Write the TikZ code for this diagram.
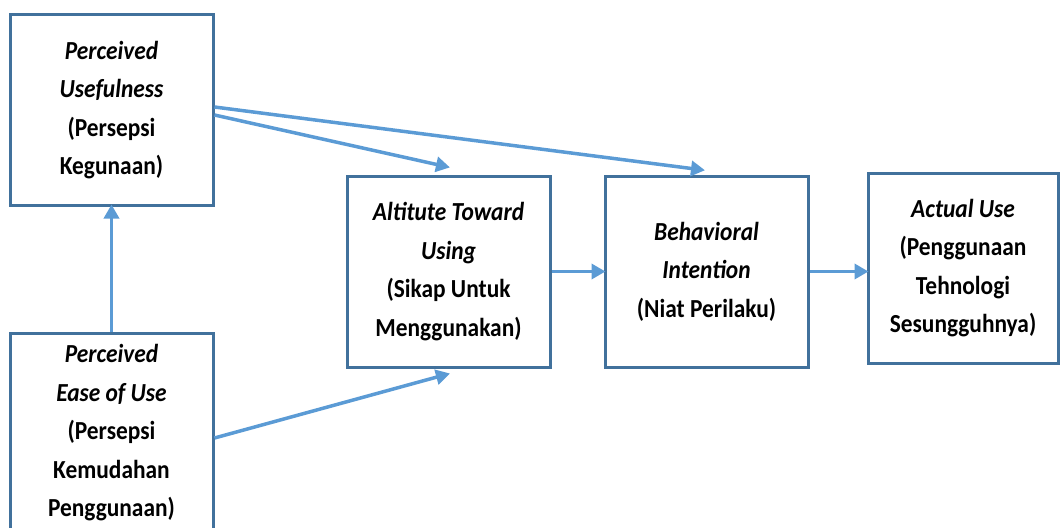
\documentclass[tikz,border=0pt]{standalone}
\usepackage{fontspec}
\setmainfont{Carlito}[FakeStretch=0.9]
\usetikzlibrary{arrows.meta}
\definecolor{boxline}{HTML}{41719C}
\definecolor{arrowline}{HTML}{5B9BD5}
\begin{document}
\begin{tikzpicture}[x=1pt,y=-1pt]
    \tikzstyle{construct}=[draw=boxline, line width=3pt, fill=white, align=center,
      font=\fontsize{26}{38.5}\selectfont\bfseries, inner sep=0pt]
    \tikzstyle{link}=[draw=arrowline, line width=3.5pt,
      -{Triangle[length=14pt,width=15pt]}, shorten >=-2pt]
    \useasboundingbox (0,0) rectangle (1062,527);
    \node[construct, minimum width=203pt, minimum height=190pt] (pu) at (111.5,110)
      {\textit{Perceived}\\ \textit{Usefulness}\\(Persepsi\\Kegunaan)};
    \node[construct, minimum width=203pt, minimum height=200pt] (peou) at (111.5,433)
      {\textit{Perceived}\\ \textit{Ease of Use}\\(Persepsi\\Kemudahan\\Penggunaan)};
    \node[construct, minimum width=203pt, minimum height=191pt] (atu) at (448.5,271.5)
      {\textit{Altitute Toward}\\ \textit{Using}\\(Sikap Untuk\\Menggunakan)};
    \node[construct, minimum width=203pt, minimum height=191pt] (bi) at (706.5,271.5)
      {\textit{Behavioral}\\ \textit{Intention}\\(Niat Perilaku)};
    \node[construct, minimum width=190pt, minimum height=190pt] (au) at (963,268)
      {\textit{Actual Use}\\(Penggunaan\\Tehnologi\\Sesungguhnya)};
    %\draw links
    \draw[link] (peou.north) -- (pu.south);
    \draw[link] (pu.east |- 0,115) -- (448,167);
    \draw[link] (pu.east |- 0,107) -- (703,170);
    \draw[link] (peou.east |- 0,438) -- (448,374);
    \draw[link] (atu.east) -- (bi.west);
    \draw[link] (bi.east) -- (au.west |- bi.east);
\end{tikzpicture}
\end{document}
